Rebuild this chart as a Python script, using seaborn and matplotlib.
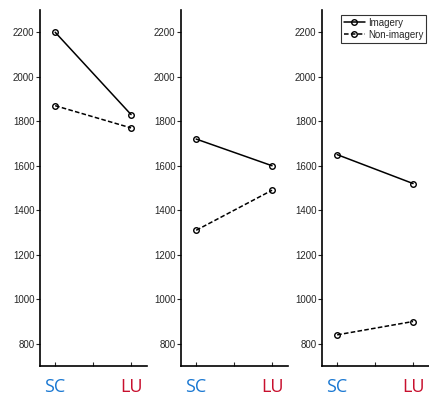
import matplotlib
matplotlib.use("Agg")
import matplotlib.pyplot as plt
import seaborn as sns
import pandas as pd

sns.set_style("white")
plt.rcParams['font.family'] = ['Liberation Sans', 'DejaVu Sans']

conditions = ["SC", "LU"]
cond_x = [1, 3]
imagery = [[2200, 1830], [1720, 1600], [1650, 1520]]
non_imagery = [[1870, 1770], [1310, 1490], [840, 900]]
yticks = [800, 1000, 1200, 1400, 1600, 1800, 2000, 2200]
label_colors = ["#1a78d2", "#c8102e"]

fig = plt.figure(figsize=(4.29, 3.99), dpi=100)
lefts = [40/429, 181/429, 322/429]
w = 107/429
bottom = 1 - 366/399
h = (366 - 10)/399

for i in range(3):
    ax = fig.add_axes([lefts[i], bottom, w, h])
    df = pd.DataFrame({
        "x": cond_x + cond_x,
        "y": imagery[i] + non_imagery[i],
        "group": ["Imagery"]*2 + ["Non-imagery"]*2,
    })
    sns.lineplot(data=df, x="x", y="y", style="group", ax=ax, color="black",
                 markers={"Imagery": "o", "Non-imagery": "o"},
                 dashes={"Imagery": "", "Non-imagery": (3, 1.5)},
                 markersize=4, markerfacecolor="none", markeredgecolor="black",
                 markeredgewidth=1.0, linewidth=1.1, legend=(i == 2))
    ax.set_xlim(0.6, 3.42)
    ax.set_ylim(700, 2300)
    ax.set_yticks(yticks)
    ax.set_xticks([1, 2, 3])
    ax.set_xticklabels([])
    ax.set_xlabel("")
    ax.set_ylabel("")
    for s in ["top", "right"]:
        ax.spines[s].set_visible(False)
    for s in ["left", "bottom"]:
        ax.spines[s].set_linewidth(1.2)
        ax.spines[s].set_color("black")
    ax.tick_params(axis="y", direction="out", length=3, width=0.8, labelsize=7, pad=1, left=True)
    ax.tick_params(axis="x", direction="in", length=3, width=0.8, bottom=True)
    for c, xv, col in zip(conditions, cond_x, label_colors):
        ax.text(xv, -21/356, c, transform=ax.get_xaxis_transform(), ha="center", va="center",
                fontsize=13, color=col, family=['Open Sans', 'DejaVu Sans'])
    if i == 2:
        leg = ax.legend(loc="upper right", bbox_to_anchor=(1.02, 1.0), fontsize=7, frameon=True,
                        fancybox=False, edgecolor="black", handlelength=2.2, handletextpad=0.3,
                        borderpad=0.3, labelspacing=0.2, title=None)
        leg.get_frame().set_linewidth(0.8)

fig.savefig("out.png", dpi=100)
